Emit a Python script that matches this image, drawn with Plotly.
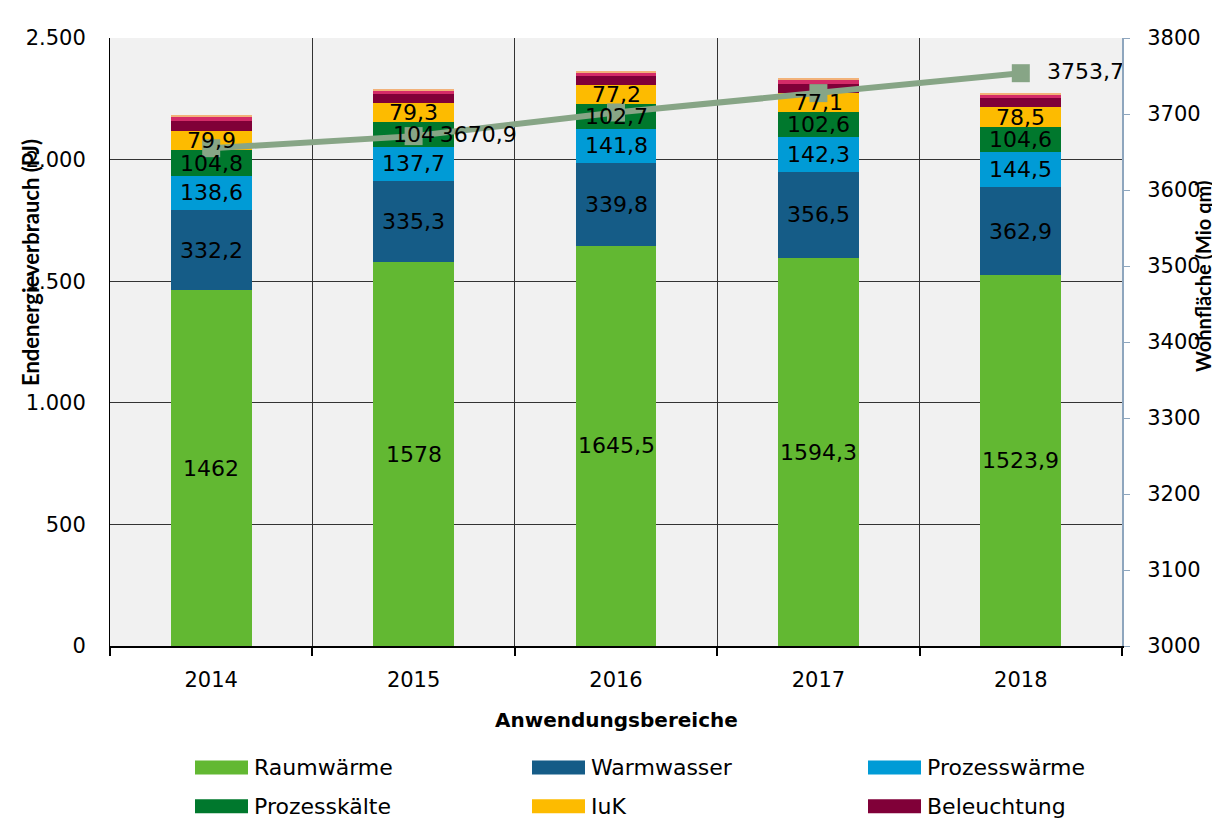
import plotly.graph_objects as go

# ---------------- data ----------------
years = ["2014", "2015", "2016", "2017", "2018"]

raumwaerme = [1462, 1578, 1645.5, 1594.3, 1523.9]
warmwasser = [332.2, 335.3, 339.8, 356.5, 362.9]
prozesswaerme = [138.6, 137.7, 141.8, 142.3, 144.5]
prozesskaelte = [104.8, 104.0, 102.7, 102.6, 104.6]
iuk = [79.9, 79.3, 77.2, 77.1, 78.5]
beleuchtung = [43, 35, 37, 38, 37]
sonstige_a = [16, 16, 16, 17, 15]      # thin unlabeled band (not in legend)
sonstige_b = [4, 4, 4, 4, 4]           # thin unlabeled band (not in legend)

wohnflaeche = [3655.0, 3670.9, 3702.0, 3727.5, 3753.7]
wohnflaeche_labeled = [False, True, False, False, True]

legend_series = ["Raumwärme", "Warmwasser", "Prozesswärme",
                 "Prozesskälte", "IuK", "Beleuchtung"]
colors = ["#62B832", "#155C87", "#009BD6", "#00782D", "#FDBB00", "#800038"]
extra_colors = ["#D42B68", "#F2B27A"]
line_color = "#87A586"

FONT = "DejaVu Sans"


def de(v):
    return f"{v:g}".replace(".", ",")


fig = go.Figure()

series_values = [raumwaerme, warmwasser, prozesswaerme, prozesskaelte, iuk, beleuchtung]
labelled = [True, True, True, True, True, False]
for name, vals, col in zip(legend_series, series_values, colors):
    fig.add_trace(go.Bar(
        x=years, y=vals, name=name,
        marker=dict(color=col, line=dict(width=0)),
        showlegend=False,
    ))

for vals, col, nm in zip([sonstige_a, sonstige_b], extra_colors, ["Sonstiges A", "Sonstiges B"]):
    fig.add_trace(go.Bar(x=years, y=vals, name=nm,
                         marker=dict(color=col, line=dict(width=0)),
                         showlegend=False))

fig.add_trace(go.Scatter(
    x=years, y=wohnflaeche, yaxis="y2", name="Wohnfläche",
    mode="lines+markers+text",
    line=dict(color=line_color, width=6),
    marker=dict(symbol="square", size=18, color=line_color),
    text=["&nbsp;&nbsp;" + de(v) if l else "" for v, l in zip(wohnflaeche, wohnflaeche_labeled)],
    textposition="middle right",
    textfont=dict(family=FONT, size=22, color="black"),
    showlegend=False,
))

# ---------------- layout geometry ----------------
# the page places the figure 8px from the top-left corner (body margin),
# so target page coordinates are shifted by OFF.
OFF = 8
W, H = 1220, 818
PL, PT, PW, PH = 110, 38, 1012, 608          # plot area in page pixels
L, T = PL - OFF, PT - OFF
R, B = W - L - PW, H - T - PH


def px(xp):
    return (xp - PL) / PW


def py(yp):
    return (PT + PH - yp) / PH


shapes = []
annotations = []

# data labels of the stacked segments (on top of everything, like the original)
base = [0.0] * len(years)
for vals, lab in zip(series_values, labelled):
    for j, v in enumerate(vals):
        if lab:
            annotations.append(dict(x=j, y=base[j] + v / 2, xref="x", yref="y",
                                    text=de(v), showarrow=False,
                                    xanchor="center", yanchor="middle",
                                    font=dict(family=FONT, size=22, color="black")))
        base[j] += v

# top rule
shapes.append(dict(type="line", xref="paper", yref="paper",
                   x0=px(0), x1=px(1230), y0=py(6), y1=py(6),
                   line=dict(color="black", width=3)))

# custom legend (3 columns, 2 rows)
col_x = [195, 532, 868]
row_y = [767.5, 806.3]
sw_w, sw_h = 53, 14
for i, (name, col) in enumerate(zip(legend_series, colors)):
    cx = col_x[i % 3]
    cy = row_y[i // 3]
    shapes.append(dict(type="rect", xref="paper", yref="paper",
                       x0=px(cx), x1=px(cx + sw_w),
                       y0=py(cy + sw_h / 2), y1=py(cy - sw_h / 2),
                       fillcolor=col, line=dict(width=0)))
    annotations.append(dict(xref="paper", yref="paper", x=px(cx + sw_w + 4), y=py(cy),
                            text=name, showarrow=False, xanchor="left", yanchor="middle",
                            font=dict(family=FONT, size=22, color="black")))

# axis titles
annotations.append(dict(xref="paper", yref="paper", x=px(616), y=py(720),
                        text="<b>Anwendungsbereiche</b>", showarrow=False,
                        xanchor="center", yanchor="middle",
                        font=dict(family=FONT, size=20, color="black")))
annotations.append(dict(xref="paper", yref="paper", x=px(31), y=py(263),
                        text="<b>Endenergieverbrauch (PJ)</b>", showarrow=False,
                        textangle=-90, xanchor="center", yanchor="middle",
                        font=dict(family="Lato", size=22, color="black")))
annotations.append(dict(xref="paper", yref="paper", x=px(1203), y=py(277),
                        text="<b>Wohnfläche (Mio qm)</b>", showarrow=False,
                        textangle=-90, xanchor="center", yanchor="middle",
                        font=dict(family="Lato", size=20, color="black")))

fig.update_layout(
    width=W, height=H,
    margin=dict(l=L, r=R, t=T, b=B),
    paper_bgcolor="white",
    plot_bgcolor="#F1F1F1",
    barmode="stack",
    bargap=0.6,
    separators=",.",
    font=dict(family=FONT, size=22, color="black"),
    shapes=shapes,
    annotations=annotations,
    xaxis=dict(
        type="category",
        categoryorder="array", categoryarray=years,
        range=[-0.5, len(years) - 0.5],
        tickson="boundaries",
        showgrid=True, gridcolor="#333333", gridwidth=1,
        showline=True, linecolor="black", linewidth=2,
        ticks="outside", ticklen=8, tickcolor="black", tickwidth=2,
        tickangle=0,
        tickfont=dict(family=FONT, size=21, color="black"),
        ticklabelstandoff=14,
    ),
    yaxis=dict(
        range=[0, 2500], dtick=500, tick0=0,
        separatethousands=True,
        showgrid=True, gridcolor="#333333", gridwidth=1,
        showline=True, linecolor="black", linewidth=1,
        ticks="", zeroline=False,
        tickfont=dict(family=FONT, size=21, color="black"),
        ticklabelstandoff=19,
    ),
    yaxis2=dict(
        overlaying="y", side="right",
        range=[3000, 3800], dtick=100, tick0=3000,
        showgrid=False, zeroline=False,
        showline=True, linecolor="#8EA6BE", linewidth=2,
        ticks="outside", ticklen=6, tickcolor="#8EA6BE", tickwidth=1,
        tickfont=dict(family=FONT, size=21, color="black"),
        ticklabelstandoff=13,
    ),
)

fig.write_html("out.html")
